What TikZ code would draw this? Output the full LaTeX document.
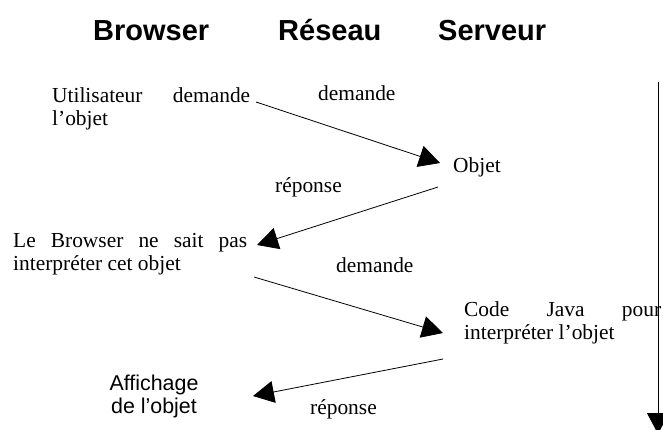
\documentclass[tikz,border=0pt]{standalone}
\usepackage{fontspec}
\setmainfont{Liberation Serif}
\setsansfont{Liberation Sans}
\usetikzlibrary{arrows.meta}
\newcommand{\corps}{\fontsize{21.4}{23}\selectfont\hyphenpenalty=10000\tolerance=10000}
\begin{document}
\begin{tikzpicture}[x=1pt,y=-1pt]
	\tikzstyle{every node}=[inner sep=0pt,font=\corps]
	\tikzstyle{titre}=[anchor=base west,font=\sffamily\bfseries\fontsize{29}{34}\selectfont]
	\tikzstyle{texte}=[anchor=base west]
	\tikzstyle{bloc}=[anchor=base west,align=justify]
	\tikzstyle{fleche}=[-{Triangle[length=21pt,width=22pt]},line width=0.8pt]
	\useasboundingbox (0,0) rectangle (663,429);
	% colonnes
	\node[titre] (browser) at (93,40) {Browser};
	\node[titre] (reseau) at (278,40) {Réseau};
	\node[titre] (serveur) at (438,40) {Serveur};
	% textes
	\node[bloc,text width=198pt] (util) at (52,102) {Utilisateur demande l'objet};
	\node[texte] (dem1) at (318,100) {demande};
	\node[texte] (objet) at (453,172) {Objet};
	\node[texte] (rep1) at (275,192) {réponse};
	\node[bloc,text width=234pt] (nesait) at (13,247) {Le Browser ne sait pas interpréter cet objet};
	\node[texte] (dem2) at (336,272) {demande};
	\node[bloc,text width=197pt] (java) at (464,316) {Code Java pour interpréter l'objet};
	\node[anchor=base,align=center,font=\corps\sffamily] (affiche) at (154,413) {Affichage\\de l'objet};
	\node[texte] (rep2) at (310,414) {réponse};
	% extremites des fleches
	\coordinate (u1) at (256,102);
	\coordinate (o1) at (440,163);
	\coordinate (o2) at (438,187);
	\coordinate (b1) at (257,245);
	\coordinate (b2) at (254,277);
	\coordinate (j1) at (443,333);
	\coordinate (j2) at (443,359);
	\coordinate (a1) at (253,396);
	\coordinate (t0) at (658,82);
	\coordinate (t1) at (658,434);
	\draw[fleche] (u1) -- (o1);
	\draw[fleche] (o2) -- (b1);
	\draw[fleche] (b2) -- (j1);
	\draw[fleche] (j2) -- (a1);
	\draw[fleche] (t0) -- (t1);
\end{tikzpicture}
\end{document}
